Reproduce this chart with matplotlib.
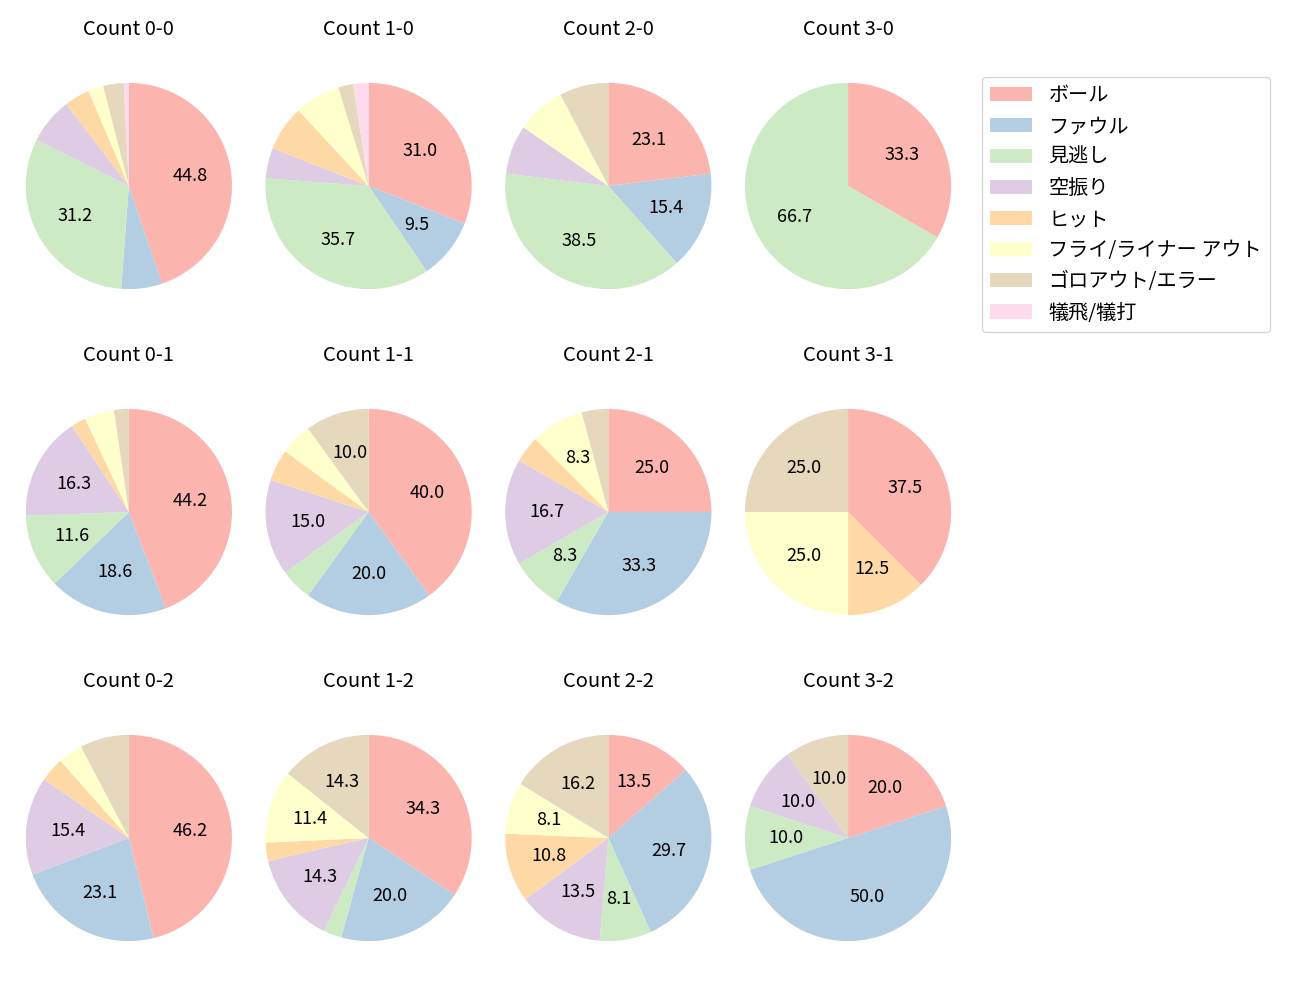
import matplotlib
matplotlib.use('Agg')
import matplotlib.pyplot as plt

plt.rcParams['font.family'] = ['Noto Sans CJK JP', 'DejaVu Sans']

# categories (legend order)
labels = ['ボール', 'ファウル', '見逃し', '空振り', 'ヒット',
          'フライ/ライナー アウト', 'ゴロアウト/エラー', '犠飛/犠打']

# pitch counts per ball-strike count, same order as labels
counts = {
    '0-0': [56, 8, 39, 9, 5, 3, 4, 1],
    '1-0': [13, 4, 15, 2, 3, 3, 1, 1],
    '2-0': [3, 2, 5, 1, 0, 1, 1, 0],
    '3-0': [1, 0, 2, 0, 0, 0, 0, 0],
    '0-1': [19, 8, 5, 7, 1, 2, 1, 0],
    '1-1': [8, 4, 1, 3, 1, 1, 2, 0],
    '2-1': [6, 8, 2, 4, 1, 2, 1, 0],
    '3-1': [3, 0, 0, 0, 1, 2, 2, 0],
    '0-2': [12, 6, 0, 4, 1, 1, 2, 0],
    '1-2': [12, 7, 1, 5, 1, 4, 5, 0],
    '2-2': [5, 11, 3, 5, 4, 3, 6, 0],
    '3-2': [2, 5, 1, 1, 0, 0, 1, 0],
}
order = ['0-0', '1-0', '2-0', '3-0',
         '0-1', '1-1', '2-1', '3-1',
         '0-2', '1-2', '2-2', '3-2']

colors = plt.cm.Pastel1.colors[:8]

fig, axes = plt.subplots(3, 4, figsize=(13, 10), dpi=100)
plt.subplots_adjust(left=0.0, right=0.7515, top=0.957, bottom=0.019,
                    wspace=-0.07, hspace=0.14)


def fmt(p):
    # small slices get no label
    return f'{p:.1f}' if p >= 8 else ''


wedges = None
for ax, key in zip(axes.flat, order):
    w, _, _ = ax.pie(counts[key], colors=colors, startangle=90, counterclock=False,
                     autopct=fmt, pctdistance=0.6, textprops={'fontsize': 13})
    ax.set_title(f'Count {key}', fontsize=14.5, pad=16)
    if wedges is None:
        wedges = w

fig.legend(wedges, labels, loc='upper left', bbox_to_anchor=(982 / 1300, 1 - 77 / 1000),
           fontsize=14.5, handlelength=2.1, borderaxespad=0)

plt.savefig('out.png')
